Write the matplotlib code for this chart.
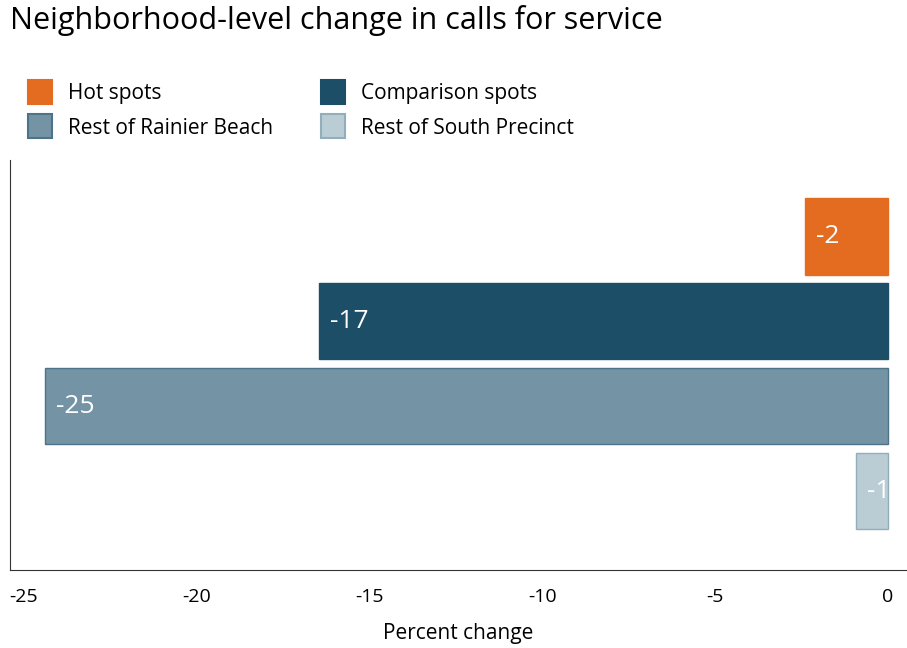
import matplotlib
matplotlib.use("Agg")
import matplotlib.pyplot as plt
from matplotlib.patches import Rectangle

plt.rcParams['font.family'] = ['Open Sans', 'DejaVu Sans']

groups = ['Hot spots', 'Comparison spots', 'Rest of Rainier Beach', 'Rest of South Precinct']
change = [-2.4, -16.45, -24.4, -0.93]
labels = ['-2', '-17', '-25', '-1']
colors = ['#E36C21', '#1C4E68', '#7493A5', '#BACCD4']
edges = ['#E36C21', '#1C4E68', '#4D7389', '#93AEBB']
xticks = [-25, -20, -15, -10, -5, 0]

W, H = 907, 648
fig = plt.figure(figsize=(W / 100, H / 100), dpi=100)
ax = fig.add_axes([10 / W, 1 - 570 / H, (W - 10) / W, (570 - 160) / H])

ypos = list(range(len(groups)))
bars = ax.barh(ypos, change, height=0.9, color=colors, edgecolor=edges, linewidth=1)

for b, lab in zip(bars, labels):
    left = min(b.get_x(), b.get_x() + b.get_width())
    t = ax.text(left + 0.32, b.get_y() + b.get_height() / 2, lab,
                color='white', fontsize=19, va='center', ha='left')
    t.set_clip_path(b)

ax.set_xlim(-25.4, 0.55)
ax.set_ylim(3.93, -0.9)
ax.set_xticks(xticks)
ax.set_xticklabels([str(v) for v in xticks], fontsize=14)
ax.tick_params(axis='x', length=0, pad=13)
ax.set_yticks([])
ax.spines['top'].set_visible(False)
ax.spines['right'].set_visible(False)
ax.spines['left'].set_color('#333333')
ax.spines['bottom'].set_color('#333333')
ax.set_xlabel('Percent change', fontsize=15, labelpad=12)

fig.text(10 / W, 1 - 21 / H, 'Neighborhood-level change in calls for service',
         fontsize=22, ha='left', va='center')

# legend, two columns: hot spots / rest of RB, comparison / rest of SP
leg_pos = [(28, 80), (321, 80), (28, 114), (321, 114)]
for (px, py), g, c, e in zip(leg_pos, groups, colors, edges):
    fig.patches.append(Rectangle((px / W, 1 - (py + 24) / H), 24 / W, 24 / H,
                                 facecolor=c, edgecolor=e, linewidth=1.5,
                                 transform=fig.transFigure, figure=fig))
    fig.text((px + 40) / W, 1 - (py + 14) / H, g, fontsize=15, ha='left', va='center')

fig.savefig('out.png', dpi=100)
